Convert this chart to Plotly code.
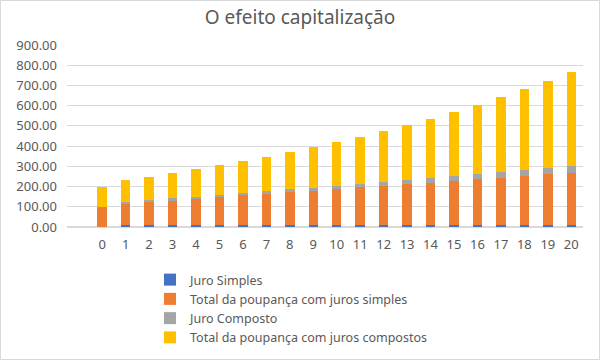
import plotly.graph_objects as go

anos = list(range(0, 21))
juro_simples = [0] + [8.00] * 20
total_simples = [100, 108, 116, 124, 132, 140, 148, 156, 164, 172, 180,
                 188, 196, 204, 212, 220, 228, 236, 244, 252, 260]
juro_composto = [0, 8.00, 8.64, 9.33, 10.08, 10.88, 11.76, 12.70, 13.71, 14.81, 15.99,
                 17.27, 18.65, 20.15, 21.76, 23.50, 25.38, 27.41, 29.60, 31.97, 34.53]
total_composto = [100.00, 108.00, 116.64, 125.97, 136.05, 146.93, 158.69, 171.38, 185.09, 199.90, 215.89,
                  233.16, 251.82, 271.96, 293.72, 317.22, 342.59, 370.00, 399.60, 431.57, 466.10]
tick_vals = list(range(0, 901, 100))

series = [
    ("Juro Simples", juro_simples, "#4472C4"),
    ("Total da poupança com juros simples", total_simples, "#ED7D31"),
    ("Juro Composto", juro_composto, "#A5A5A5"),
    ("Total da poupança com juros compostos", total_composto, "#FFC000"),
]

FONT = "Noto Sans"
TXT = "#595959"

fig = go.Figure()
for name, vals, col in series:
    fig.add_trace(go.Bar(x=anos, y=vals, name=name, marker=dict(color=col, line=dict(width=0))))

L, R, T, B = 67, 17, 45, 133
pw = 600 - L - R
ph = 360 - T - B
fig.update_layout(
    width=600, height=360,
    barmode="stack", bargap=0.6,
    paper_bgcolor="white", plot_bgcolor="white",
    margin=dict(l=L, r=R, t=T, b=B, autoexpand=False),
    font=dict(family=FONT, color=TXT, size=13),
    title=dict(text="O efeito capitalização", x=0.5, xanchor="center", y=1 - 17 / 360, yanchor="middle",
               font=dict(family=FONT, size=19, color=TXT)),
    xaxis=dict(range=[-1.5, 20.5], tickmode="array", tickvals=anos, ticktext=[str(a) for a in anos],
               showgrid=False, zeroline=False, showline=False, ticks="", automargin=False,
               ticklabelstandoff=8, tickfont=dict(size=13, color=TXT)),
    yaxis=dict(range=[0, 900], tickvals=tick_vals, tickformat=".2f", showgrid=True, gridcolor="#D9D9D9",
               gridwidth=1, zeroline=True, zerolinecolor="#D9D9D9", showline=False, ticks="",
               automargin=False, ticklabelstandoff=9, tickfont=dict(size=13, color=TXT)),
    legend=dict(orientation="v", xref="container", yref="container",
                x=150 / 600, xanchor="left", y=1 - 265 / 360, yanchor="top", traceorder="normal",
                font=dict(size=12.5, color=TXT), itemwidth=30, tracegroupgap=0, bgcolor="rgba(0,0,0,0)"),
    showlegend=True,
)
fig.add_shape(type="rect", xref="paper", yref="paper",
              x0=(0.5 - L) / pw, x1=(599.5 - L) / pw,
              y0=-(B - 0.5) / ph, y1=1 + (T - 0.5) / ph,
              line=dict(color="#D9D9D9", width=1), fillcolor="rgba(0,0,0,0)", layer="below")
fig.write_html("out.html", config={"displayModeBar": False},
               post_script="document.body.style.margin='0';document.body.style.padding='0';")
